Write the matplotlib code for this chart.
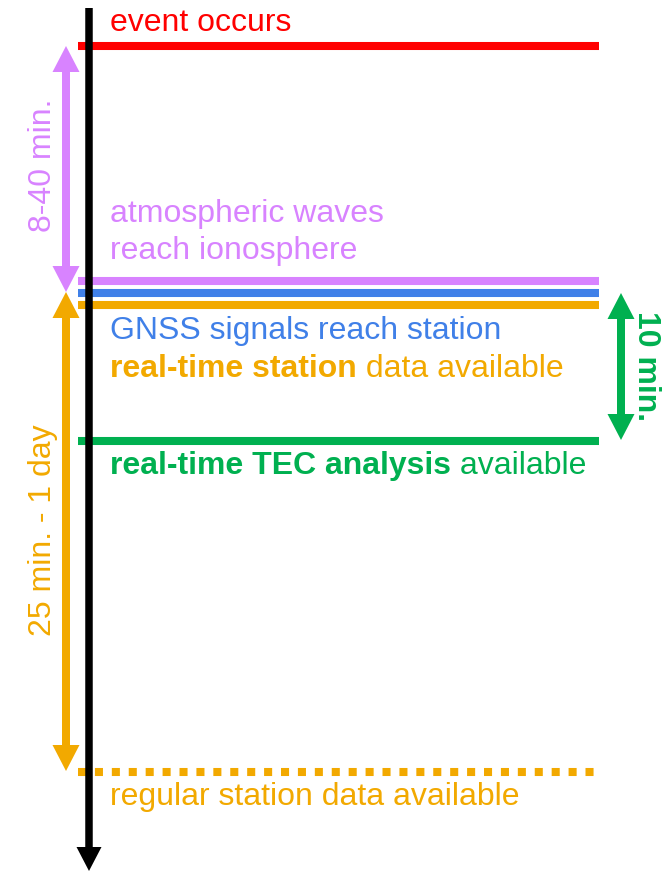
import matplotlib
matplotlib.use("Agg")
import matplotlib.pyplot as plt

plt.rcParams['font.family'] = ['Liberation Sans', 'DejaVu Sans']

# eventos en la linea de tiempo (posicion esquematica, de arriba hacia abajo)
event_names = ['event occurs', 'atmospheric waves reach ionosphere',
               'GNSS signals reach station', 'real-time station data available',
               'real-time TEC analysis available', 'regular station data available']
event_y = [46, 281, 293, 305, 441, 772]
event_colors = ['#FF0000', '#D883FF', '#4080E8', '#F2A900', '#00B050', '#F2A900']
event_dotted = [False, False, False, False, False, True]

# intervalos entre eventos
span_labels = ['8-40 min.', '25 min. - 1 day', '10 min.']
span_start = [46, 292, 293]
span_end = [292, 771, 440]
span_colors = ['#D883FF', '#F2A900', '#00B050']

# textos: (parte en negrita, parte normal)
label_rows = [
    ('', 'event occurs', '#FF0000'),
    ('', 'atmospheric waves', '#D883FF'),
    ('', 'reach ionosphere', '#D883FF'),
    ('', 'GNSS signals reach station', '#4080E8'),
    ('real-time station', ' data available', '#F2A900'),
    ('real-time TEC analysis', ' available', '#00B050'),
    ('', 'regular station data available', '#F2A900'),
]
label_baseline = [event_y[0] - 15, event_y[1] - 59, event_y[1] - 22,
                  event_y[3] + 34, event_y[3] + 72, event_y[4] + 33, event_y[5] + 33]

W, H = 665, 871
fig = plt.figure(figsize=(W / 100, H / 100), dpi=100)
ax = fig.add_axes([0, 0, 1, 1])
ax.set_xlim(0, W)
ax.set_ylim(H, 0)
ax.axis('off')

x_left, x_right = 78, 600
lw = 5.8
for y, c, dotted in zip(event_y, event_colors, event_dotted):
    if dotted:
        ax.plot([x_left, x_right], [y, y], color=c, lw=lw, linestyle=(0, (1, 1.1)),
                dash_capstyle='butt')
    else:
        ax.plot([x_left, x_right - 1], [y, y], color=c, lw=lw, solid_capstyle='butt')

# flechas dobles: dos medias flechas que se solapan un poco en el centro
span_x = [66, 66, 621]
for x, a, b, c in zip(span_x, span_start, span_end, span_colors):
    mid = (a + b) / 2
    ax.arrow(x, mid + 4, 0, a - mid - 4, width=8, head_width=27, head_length=26,
             length_includes_head=True, color=c, lw=0)
    ax.arrow(x, mid - 4, 0, b - mid + 4, width=8, head_width=27, head_length=26,
             length_includes_head=True, color=c, lw=0)

# linea de tiempo
ax.arrow(89, 8, 0, H - 8, width=7.5, head_width=25, head_length=24,
         length_includes_head=True, color='black', lw=0, zorder=5)

fs = 23
renderer = fig.canvas.get_renderer()
for (bold, normal, c), yb in zip(label_rows, label_baseline):
    x = 110
    if bold:
        t = ax.text(x, yb, bold, color=c, fontsize=fs, fontweight='bold', va='baseline', ha='left')
        bb = t.get_window_extent(renderer)
        x = ax.transData.inverted().transform((bb.x1, 0))[0]
    ax.text(x, yb, normal, color=c, fontsize=fs, va='baseline', ha='left')

# etiquetas de los intervalos
ax.text(51, (span_start[0] + span_end[0]) / 2 - 4, span_labels[0], color=span_colors[0], fontsize=fs,
        rotation=90, rotation_mode='anchor', ha='center', va='baseline')
ax.text(51, 530, span_labels[1], color=span_colors[1], fontsize=fs,
        rotation=90, rotation_mode='anchor', ha='center', va='baseline')
ax.text(638, (span_start[2] + span_end[2]) / 2, span_labels[2], color=span_colors[2], fontsize=fs,
        fontweight='bold', rotation=-90, rotation_mode='anchor', ha='center', va='baseline')

fig.savefig('out.png', dpi=100)
